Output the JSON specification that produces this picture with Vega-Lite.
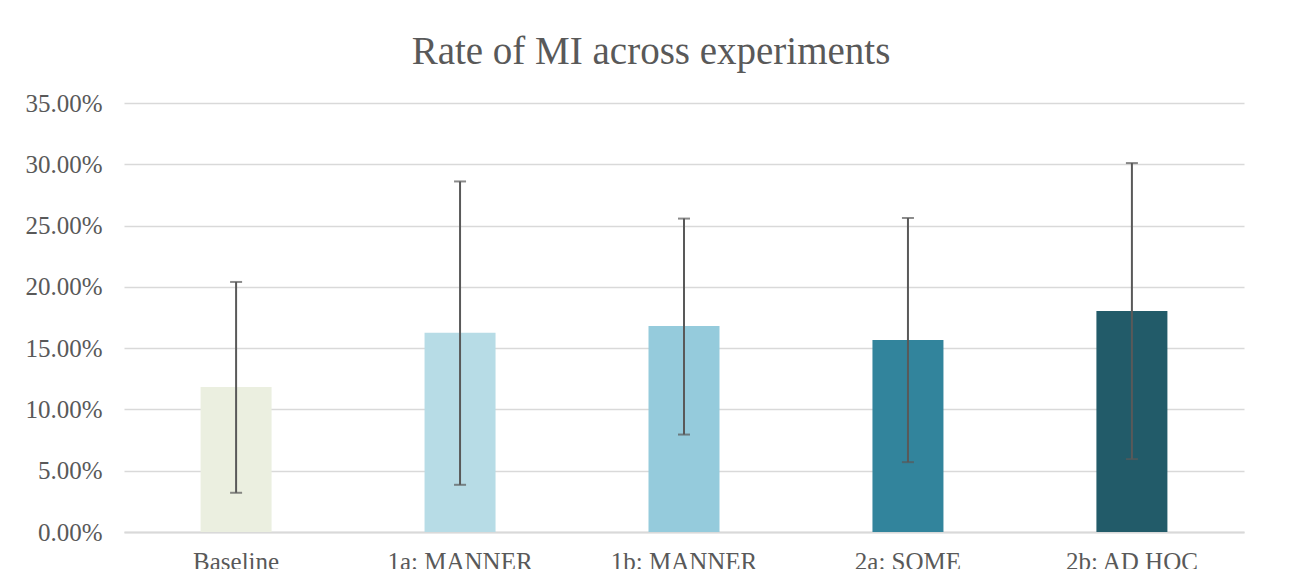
{
  "$schema": "https://vega.github.io/schema/vega-lite/v6.json",
  "autosize": {"type": "none"},
  "width": 1120,
  "height": 429,
  "padding": {"left": 124, "top": 103, "right": 59, "bottom": 37},
  "background": "white",
  "title": {
    "text": "Rate of MI across experiments",
    "font": "Liberation Serif",
    "fontSize": 39,
    "fontWeight": "normal",
    "color": "#595959",
    "anchor": "middle",
    "frame": "group",
    "dx": -33,
    "offset": 19
  },
  "data": {
    "values": [
      {"experiment": "Baseline", "rate": 0.1183, "lower": 0.032, "upper": 0.204},
      {"experiment": "1a: MANNER", "rate": 0.1626, "lower": 0.0385, "upper": 0.286},
      {"experiment": "1b: MANNER", "rate": 0.168, "lower": 0.0795, "upper": 0.2557},
      {"experiment": "2a: SOME", "rate": 0.1566, "lower": 0.057, "upper": 0.2562},
      {"experiment": "2b: AD HOC", "rate": 0.1803, "lower": 0.0595, "upper": 0.301}
    ]
  },
  "encoding": {
    "x": {
      "field": "experiment",
      "type": "nominal",
      "sort": null,
      "scale": {"paddingInner": 0.683, "paddingOuter": 0.342},
      "axis": {
        "title": null,
        "labelAngle": 0,
        "labelFont": "Liberation Serif",
        "labelFontSize": 25,
        "labelColor": "#595959",
        "labelPadding": 17,
        "ticks": false,
        "domainColor": "#D9D9D9",
        "domainWidth": 2,
        "grid": false
      }
    }
  },
  "layer": [
    {
      "mark": {"type": "bar"},
      "encoding": {
        "y": {
          "field": "rate",
          "type": "quantitative",
          "scale": {"domain": [0, 0.35], "nice": false},
          "axis": {
            "title": null,
            "format": ".2%",
            "values": [0, 0.05, 0.1, 0.15, 0.2, 0.25, 0.3, 0.35],
            "labelFont": "Liberation Serif",
            "labelFontSize": 25,
            "labelColor": "#595959",
            "labelPadding": 22,
            "ticks": false,
            "domain": false,
            "gridColor": "#D9D9D9",
            "gridWidth": 1.5
          }
        },
        "color": {
          "field": "experiment",
          "type": "nominal",
          "sort": null,
          "scale": {
            "domain": ["Baseline", "1a: MANNER", "1b: MANNER", "2a: SOME", "2b: AD HOC"],
            "range": ["#EBEFE0", "#B7DCE6", "#95CBDC", "#32849C", "#225B69"]
          },
          "legend": null
        }
      }
    },
    {
      "mark": {"type": "rule", "color": "#595959", "strokeWidth": 2},
      "encoding": {
        "y": {"field": "lower", "type": "quantitative"},
        "y2": {"field": "upper"}
      }
    },
    {
      "mark": {"type": "tick", "color": "#595959", "thickness": 2, "size": 12, "orient": "horizontal"},
      "encoding": {
        "y": {"field": "lower", "type": "quantitative"}
      }
    },
    {
      "mark": {"type": "tick", "color": "#595959", "thickness": 2, "size": 12, "orient": "horizontal"},
      "encoding": {
        "y": {"field": "upper", "type": "quantitative"}
      }
    }
  ],
  "config": {
    "view": {"stroke": null}
  }
}
